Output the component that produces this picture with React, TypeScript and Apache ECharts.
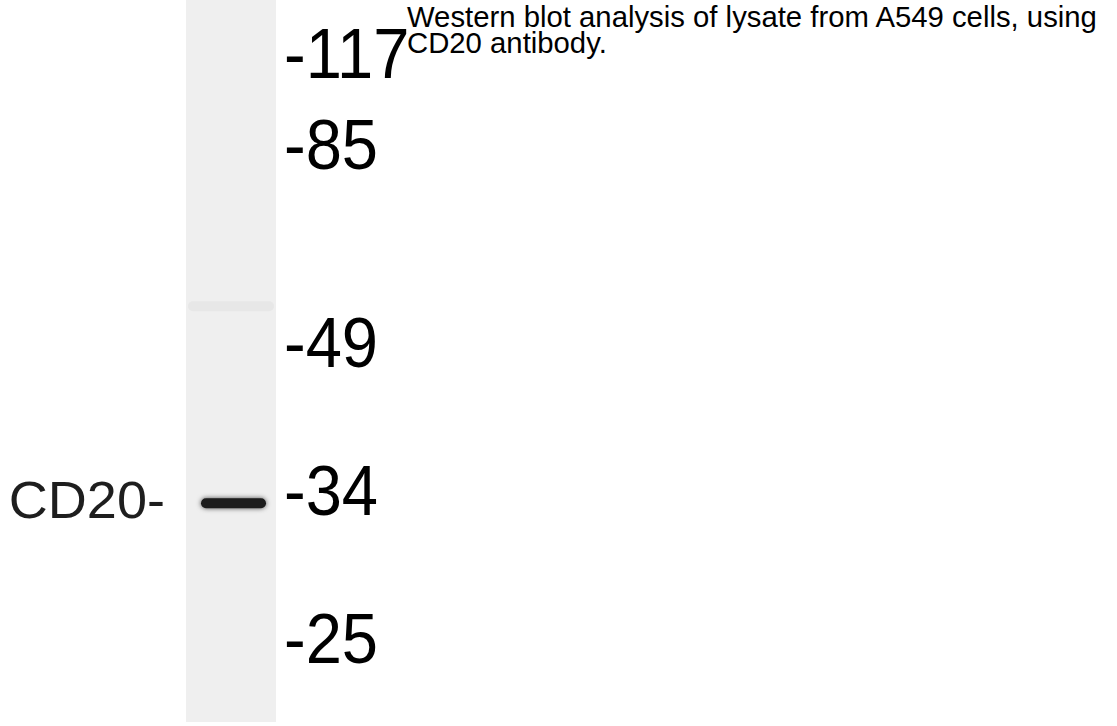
import React, { useEffect, useRef } from "react";
import * as echarts from "echarts";

// Lane(s) of the blot
const lanes = ["A549"];
// Molecular-weight marker labels and their migration (% of lane length, top = 0)
const markerLabels = ["-117", "-85", "-49", "-34", "-25"];
const markerMigration = [7.5, 20.1, 47.4, 67.9, 88.5];
// Detected bands: label, migration (% of lane length), intensity (0..1)
const bandLabels = ["CD20-", ""];
const bandMigration = [69.7, 42.4];
const bandIntensity = [1.0, 0.035];
const caption = "Western blot analysis of lysate from A549 cells, using\nCD20 antibody.";

const FONT = "'Liberation Sans', Arial, Helvetica, sans-serif";

export default function App() {
  const ref = useRef<HTMLDivElement>(null);
  useEffect(() => {
    if (!ref.current) return;
    const chart = echarts.init(ref.current, undefined, { renderer: "svg" });
    chart.setOption({
      animation: false,
      backgroundColor: "#ffffff",
      title: {
        text: caption,
        left: 407,
        top: 3,
        padding: 0,
        textStyle: {
          fontFamily: FONT,
          fontSize: 29.3,
          fontWeight: "normal",
          color: "#000000",
          lineHeight: 26,
        },
      },
      grid: {
        left: 186,
        width: 90,
        top: 0,
        height: 722,
        show: true,
        backgroundColor: "#efefef",
        borderWidth: 0,
      },
      xAxis: {
        type: "category",
        data: lanes,
        show: false,
        boundaryGap: true,
      },
      yAxis: {
        type: "value",
        min: 0,
        max: 100,
        inverse: true,
        show: false,
      },
      series: [
        {
          type: "custom",
          name: "bands",
          data: bandMigration.map((m, i) => [0, m, bandIntensity[i], i]),
          renderItem: (params: any, api: any) => {
            const cs = params.coordSys;
            const y = api.coord([0, api.value(1)])[1];
            const inten = api.value(2);
            const idx = api.value(3);
            const strong = inten > 0.5;
            const children: any[] = [];
            if (strong) {
              children.push({
                type: "rect",
                shape: { x: cs.x + 15, y: y - 5, width: cs.width - 25, height: 10, r: 5 },
                style: {
                  fill: "#1a1a1a",
                  shadowBlur: 5,
                  shadowColor: "rgba(0,0,0,0.7)",
                },
              });
            } else {
              children.push({
                type: "rect",
                shape: { x: cs.x + 2, y: y - 5, width: cs.width - 4, height: 10, r: 5 },
                style: {
                  fill: "rgba(0,0,0," + inten + ")",
                  shadowBlur: 10,
                  shadowColor: "rgba(0,0,0," + inten + ")",
                },
              });
            }
            if (bandLabels[idx]) {
              children.push({
                type: "text",
                x: cs.x - 21,
                y: y - 3,
                scaleX: 1.06,
                style: {
                  text: bandLabels[idx],
                  fontFamily: FONT,
                  fontSize: 51,
                  fill: "#1e1e1e",
                  align: "right",
                  verticalAlign: "middle",
                },
              });
            }
            return { type: "group", children };
          },
          z: 2,
        },
        {
          type: "custom",
          name: "markers",
          data: markerMigration.map((m, i) => [0, m, i]),
          renderItem: (params: any, api: any) => {
            const cs = params.coordSys;
            const y = api.coord([0, api.value(1)])[1];
            const idx = api.value(2);
            return {
              type: "text",
              x: cs.x + cs.width + 8,
              y: y,
              scaleX: 0.93,
              style: {
                text: markerLabels[idx],
                fontFamily: FONT,
                fontSize: 70,
                fill: "#000000",
                align: "left",
                verticalAlign: "middle",
              },
            };
          },
          z: 3,
        },
      ],
    });
    return () => chart.dispose();
  }, []);
  return (
    <div
      ref={ref}
      style={{ position: "absolute", left: 0, top: 0, width: 1117, height: 726 }}
    />
  );
}
